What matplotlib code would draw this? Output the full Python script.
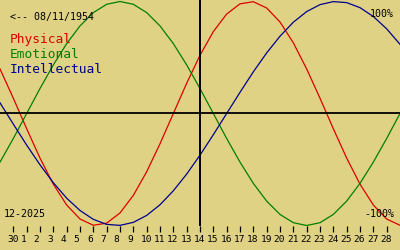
import matplotlib
matplotlib.use('Agg')
import matplotlib.pyplot as plt
import matplotlib.transforms as mtransforms

# Biorhythm for birth date 08/11/1954, month 12-2025 (today = 14th)
birth_text = '<-- 08/11/1954'
month_text = '12-2025'

# one point per day, from Nov 29 (index 0) to Dec 29 (index 30)
day_index = list(range(31))
tick_days = ['30'] + [str(d) for d in range(1, 29)]
today_index = 15

physical = [0.398, 0.136, -0.136, -0.398, -0.631, -0.817, -0.942, -0.998,
            -0.979, -0.888, -0.731, -0.520, -0.270, 0.0, 0.270, 0.520,
            0.731, 0.888, 0.979, 0.998, 0.942, 0.817, 0.631, 0.398,
            0.136, -0.136, -0.398, -0.631, -0.817, -0.942, -0.998]
emotional = [-0.434, -0.223, 0.0, 0.223, 0.434, 0.624, 0.782, 0.901,
             0.975, 1.0, 0.975, 0.901, 0.782, 0.624, 0.434, 0.223,
             0.0, -0.223, -0.434, -0.624, -0.782, -0.901, -0.975, -1.0,
             -0.975, -0.901, -0.782, -0.624, -0.434, -0.223, 0.0]
intellectual = [0.095, -0.095, -0.282, -0.458, -0.618, -0.756, -0.866, -0.945,
                -0.990, -0.999, -0.972, -0.910, -0.815, -0.690, -0.541, -0.372,
                -0.189, 0.0, 0.189, 0.372, 0.541, 0.690, 0.815, 0.910,
                0.972, 0.999, 0.990, 0.945, 0.866, 0.756, 0.618]

bg = '#e0d284'
red = '#dd0000'
green = '#008000'
blue = '#000090'
mono = 'DejaVu Sans Mono'

fig = plt.figure(figsize=(4, 2.5), dpi=100, facecolor=bg)
ax = fig.add_axes([0, 24 / 250, 1, 226 / 250])
ax.set_facecolor(bg)

ax.plot(day_index, physical, color=red, lw=0.9)
ax.plot(day_index, emotional, color=green, lw=0.9)
ax.plot(day_index, intellectual, color=blue, lw=0.9)

# zero line and today marker
ax.axhline(0, color='black', lw=1.3)
ax.axvline(today_index, color='black', lw=1.4)

ax.set_xlim(0, 30)
ax.set_ylim(-1.0045, 1.0134)
for s in ax.spines.values():
    s.set_visible(False)
ax.set_yticks([])

ax.set_xticks(range(1, 30))
ax.set_xticklabels(tick_days, fontfamily=mono, fontsize=6.8)
ax.tick_params(axis='x', direction='out', length=4.4, width=0.9, pad=2.3,
               colors='black')
shift = mtransforms.ScaledTranslation(-6.3 / 100, 0, fig.dpi_scale_trans)
for lab in ax.get_xticklabels():
    lab.set_horizontalalignment('left')
    lab.set_transform(lab.get_transform() + shift)

# texts, placed in pixel terms of the 400x250 figure
def px(x, y):
    return x / 400, 1 - y / 250

fig.text(*px(10, 20), birth_text, fontfamily=mono, fontsize=7.2, va='baseline', color='black')
fig.text(*px(10, 43), 'Physical', fontfamily=mono, fontsize=9.3, va='baseline', color=red)
fig.text(*px(10, 58), 'Emotional', fontfamily=mono, fontsize=9.3, va='baseline', color=green)
fig.text(*px(10, 73), 'Intellectual', fontfamily=mono, fontsize=9.3, va='baseline', color=blue)
fig.text(*px(394, 17), '100%', fontfamily=mono, fontsize=7.2, va='baseline', ha='right', color='black')
fig.text(*px(394, 217), '-100%', fontfamily=mono, fontsize=7.2, va='baseline', ha='right', color='black')
fig.text(*px(4, 217), month_text, fontfamily=mono, fontsize=7.2, va='baseline', color='black')

fig.savefig('out.png', dpi=100, facecolor=bg)
